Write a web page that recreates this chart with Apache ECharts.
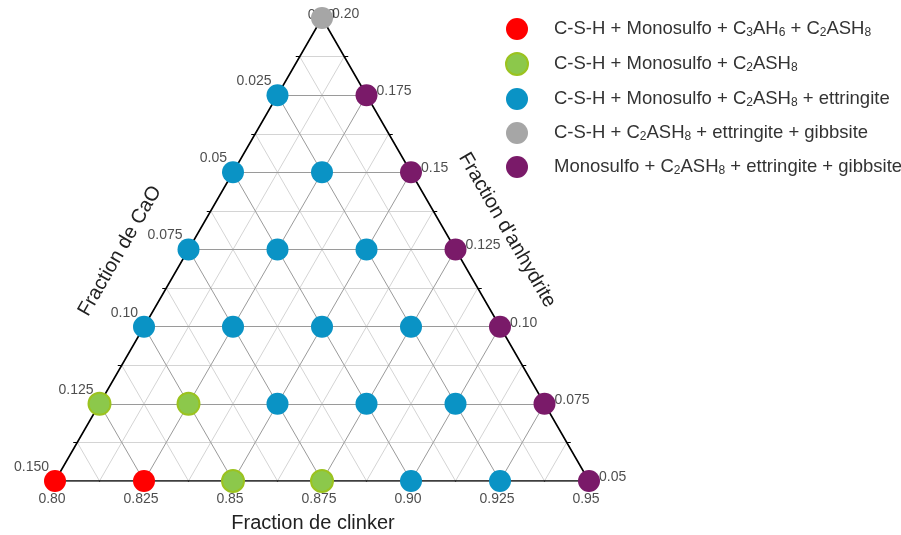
<!DOCTYPE html>
<html>
<head>
<meta charset="utf-8">
<script src="https://cdn.jsdelivr.net/npm/echarts@6/dist/echarts.min.js"></script>
<style>
  html, body { margin: 0; padding: 0; background: #fff; }
  #main { width: 901px; height: 535px; }
</style>
</head>
<body>
<div id="main"></div>
<script>
// ternary ranges: clinker 0.80-0.95, CaO 0-0.15, anhydrite 0.05-0.20
var clinkerTicks = [0.80, 0.825, 0.85, 0.875, 0.90, 0.925, 0.95];
var clinkerLabels = ['0.80', '0.825', '0.85', '0.875', '0.90', '0.925', '0.95'];
var caoTicks = [0, 0.025, 0.05, 0.075, 0.10, 0.125, 0.15];
var caoLabels = ['0.00', '0.025', '0.05', '0.075', '0.10', '0.125', '0.150'];
var anhTicks = [0.05, 0.075, 0.10, 0.125, 0.15, 0.175, 0.20];
var anhLabels = ['0.05', '0.075', '0.10', '0.125', '0.15', '0.175', '0.20'];

// points: [clinker, CaO, anhydrite]
var redPts = [[0.80, 0.15, 0.05], [0.825, 0.125, 0.05]];
var greenPts = [[0.85, 0.10, 0.05], [0.875, 0.075, 0.05], [0.80, 0.125, 0.075], [0.825, 0.10, 0.075]];
var bluePts = [
  [0.90, 0.05, 0.05], [0.925, 0.025, 0.05],
  [0.85, 0.075, 0.075], [0.875, 0.05, 0.075], [0.90, 0.025, 0.075],
  [0.80, 0.10, 0.10], [0.825, 0.075, 0.10], [0.85, 0.05, 0.10], [0.875, 0.025, 0.10],
  [0.80, 0.075, 0.125], [0.825, 0.05, 0.125], [0.85, 0.025, 0.125],
  [0.80, 0.05, 0.15], [0.825, 0.025, 0.15],
  [0.80, 0.025, 0.175]
];
var grayPts = [[0.80, 0, 0.20]];
var purplePts = [[0.95, 0, 0.05], [0.925, 0, 0.075], [0.90, 0, 0.10], [0.875, 0, 0.125], [0.85, 0, 0.15], [0.825, 0, 0.175]];

var seriesNames = [
  'C-S-H + Monosulfo + C3AH6 + C2ASH8',
  'C-S-H + Monosulfo + C2ASH8',
  'C-S-H + Monosulfo + C2ASH8 + ettringite',
  'C-S-H + C2ASH8 + ettringite + gibbsite',
  'Monosulfo + C2ASH8 + ettringite + gibbsite'
];

var SPAN = 0.15, DIV = 12;
var FONT = 'Liberation Sans, Arial, sans-serif';

// ternary -> cartesian (bottom-left = max CaO, bottom-right = max clinker, top = max anhydrite)
function toXY(c, a, s) {
  var cn = (c - 0.80) / SPAN, sn = (s - 0.05) / SPAN;
  return [cn + sn / 2, sn];
}
function conv(pts) { return pts.map(function (p) { return toXY(p[0], p[1], p[2]); }); }

// grid lines
var minorLines = [], majorLines = [];
for (var k = 1; k < DIV; k++) {
  var f = k / DIV;
  var segs = [
    [[f / 2, f], [1 - f / 2, f]],
    [[f, 0], [f + (1 - f) / 2, 1 - f]],
    [[1 - f, 0], [(1 - f) / 2, 1 - f]]
  ];
  segs.forEach(function (sg) { (k % 2 === 0 ? majorLines : minorLines).push({ coords: sg }); });
}
// small ticks at half-steps
var tickLines = [];
var tx = 4 / 534, ty = 4 / 463;
for (var k2 = 1; k2 < DIV; k2 += 2) {
  var g = k2 / DIV;
  tickLines.push({ coords: [[g, 0], [g, -ty]] });
  tickLines.push({ coords: [[g / 2, g], [g / 2 - tx, g]] });
  tickLines.push({ coords: [[1 - g / 2, g], [1 - g / 2 + tx, g]] });
}

var bottomData = clinkerTicks.map(function (c, i) { return { value: toXY(c, 0.95 - c, 0.05), name: clinkerLabels[i] }; });
var leftData = caoTicks.map(function (a, i) {
  var d = { value: toXY(0.80, a, 0.20 - a), name: caoLabels[i] };
  if (a === 0) d.label = { offset: [19, -3] }; // top corner label sits under the marker
  return d;
});
var rightData = anhTicks.map(function (s, i) { return { value: toXY(0.95 - (s - 0.05), 0, s), name: anhLabels[i] }; });

function labelSeries(data, pos, dist, off) {
  return {
    type: 'scatter', data: data, symbolSize: 0, z: 3, silent: true,
    label: { show: true, position: pos, distance: dist, offset: off,
      fontFamily: FONT, fontSize: 14, color: '#222',
      formatter: function (p) { return p.name; } }
  };
}

function pointSeries(name, pts, color, border) {
  return {
    name: name, type: 'scatter', data: conv(pts), symbol: 'circle', symbolSize: 22, z: 5,
    itemStyle: { color: color, opacity: 1, borderColor: border || color, borderWidth: border ? 2 : 0 }
  };
}

var chart = echarts.init(document.getElementById('main'));
chart.setOption({
  animation: false,
  backgroundColor: '#fff',
  grid: { left: 55, top: 18, width: 534, height: 463 },
  xAxis: { type: 'value', min: 0, max: 1, show: false },
  yAxis: { type: 'value', min: 0, max: 1, show: false },
  legend: {
    orient: 'vertical', left: 500, top: 13, itemGap: 12,
    icon: 'circle', itemWidth: 22, itemHeight: 22,
    data: seriesNames,
    formatter: function (n) { return n.replace(/([A-Z])(\d)/g, '$1{s|$2}'); },
    textStyle: {
      fontFamily: FONT, fontSize: 18.5, color: '#333',
      padding: [0, 0, 0, 21],
      rich: { s: { fontFamily: FONT, fontSize: 12, color: '#333', verticalAlign: 'bottom', padding: [8, 0, 0, 0] } }
    }
  },
  graphic: [
    { type: 'text', x: 313, y: 523, style: { text: 'Fraction de clinker', fontFamily: FONT, fontSize: 20, fill: '#222', align: 'center', verticalAlign: 'middle' } },
    { type: 'text', x: 120, y: 251, rotation: Math.PI / 3, style: { text: 'Fraction de CaO', fontFamily: FONT, fontSize: 20, fill: '#222', align: 'center', verticalAlign: 'middle' } },
    { type: 'text', x: 507, y: 230, rotation: -Math.PI / 3, style: { text: "Fraction d'anhydrite", fontFamily: FONT, fontSize: 20, fill: '#222', align: 'center', verticalAlign: 'middle' } }
  ],
  series: [
    { type: 'lines', coordinateSystem: 'cartesian2d', data: minorLines, z: 1, silent: true,
      lineStyle: { color: '#d4d4d4', width: 1, opacity: 1 } },
    { type: 'lines', coordinateSystem: 'cartesian2d', data: majorLines, z: 2, silent: true,
      lineStyle: { color: '#9a9a9a', width: 1, opacity: 1 } },
    { type: 'lines', coordinateSystem: 'cartesian2d', data: tickLines, z: 2, silent: true,
      lineStyle: { color: '#000', width: 1.2, opacity: 1 } },
    { type: 'line', data: [[0, 0], [1, 0], [0.5, 1], [0, 0]], symbol: 'none', z: 3, silent: true,
      lineStyle: { color: '#000', width: 1.6 } },
    labelSeries(bottomData, 'bottom', 11, [-3, 0]),
    labelSeries(leftData, 'left', 6, [0, -14]),
    labelSeries(rightData, 'right', 10, [0, -4]),
    pointSeries(seriesNames[0], redPts, '#ff0000'),
    pointSeries(seriesNames[1], greenPts, '#8cc84b', '#9bc31f'),
    pointSeries(seriesNames[2], bluePts, '#0a93c5'),
    pointSeries(seriesNames[3], grayPts, '#a6a6a6'),
    pointSeries(seriesNames[4], purplePts, '#7a1a69')
  ]
});
</script>
</body>
</html>
